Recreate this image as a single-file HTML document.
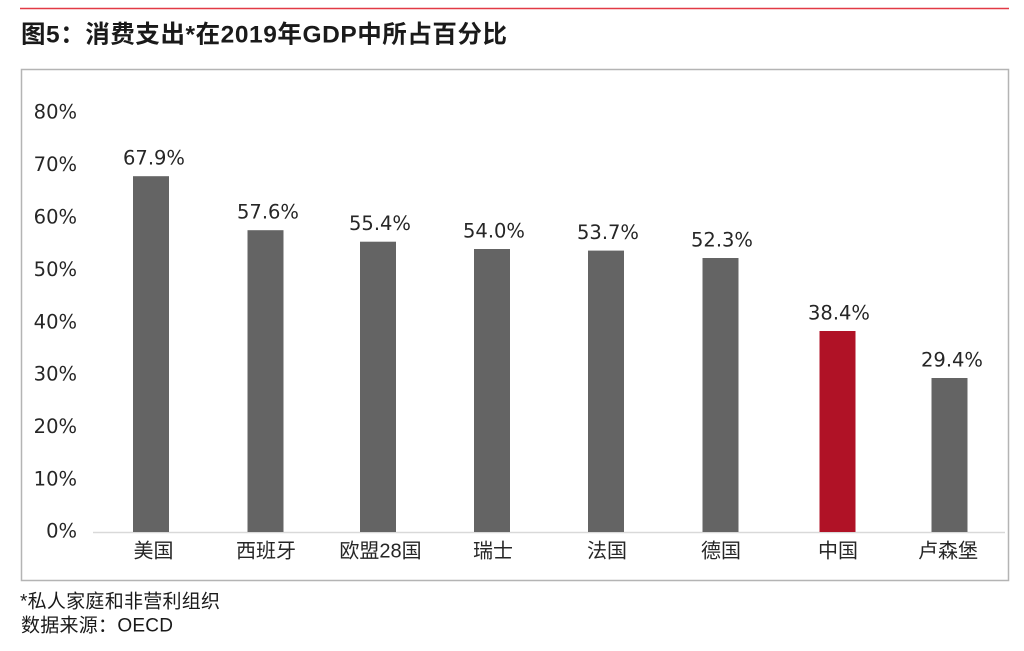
<!DOCTYPE html>
<html><head><meta charset="utf-8"><style>
html,body{margin:0;padding:0;background:#fff;}
svg{display:block;}
</style></head><body>
<svg width="1024" height="651" viewBox="0 0 1024 651" xmlns="http://www.w3.org/2000/svg">
<rect x="0" y="0" width="1024" height="651" fill="#fff"/>
<line x1="20" y1="8.5" x2="1009" y2="8.5" stroke="#e23a46" stroke-width="1.5"/>
<text x="21" y="42.5" font-family="'Liberation Sans','Noto Sans CJK SC',sans-serif" font-weight="bold" font-size="24.5" fill="#1a1a1a" textLength="486" lengthAdjust="spacing">图5：消费支出*在2019年GDP中所占百分比</text>
<rect x="21.5" y="69.5" width="987" height="511" fill="none" stroke="#b4b4b4" stroke-width="1.5"/>
<g font-family="'DejaVu Sans',sans-serif" font-size="19.5" fill="#262626" text-anchor="end">
<text x="77" y="118.5">80%</text>
<text x="77" y="171">70%</text>
<text x="77" y="223.5">60%</text>
<text x="77" y="276">50%</text>
<text x="77" y="328.5">40%</text>
<text x="77" y="380.5">30%</text>
<text x="77" y="433">20%</text>
<text x="77" y="485.5">10%</text>
<text x="77" y="537.5">0%</text>
</g>
<line x1="93" y1="532.5" x2="1005" y2="532.5" stroke="#d9d9d9" stroke-width="1.5"/>
<g fill="#646464">
<rect x="133" y="176.2" width="36" height="355.8"/>
<rect x="247.5" y="230.2" width="36" height="301.8"/>
<rect x="360" y="241.7" width="36" height="290.3"/>
<rect x="474" y="249" width="36" height="283"/>
<rect x="588" y="250.6" width="36" height="281.4"/>
<rect x="702.5" y="258" width="36" height="274"/>
<rect x="931.5" y="378" width="36" height="154"/>
</g>
<rect x="819.5" y="331" width="36" height="201" fill="#b01226"/>
<g font-family="'DejaVu Sans',sans-serif" font-size="19.5" fill="#262626" text-anchor="middle">
<text x="154" y="164.5">67.9%</text>
<text x="268" y="218.5">57.6%</text>
<text x="380" y="230">55.4%</text>
<text x="494" y="237.5">54.0%</text>
<text x="608" y="239">53.7%</text>
<text x="722" y="246.5">52.3%</text>
<text x="839" y="319.5">38.4%</text>
<text x="952" y="366.5">29.4%</text>
</g>
<g font-family="'Liberation Sans','Noto Sans CJK SC',sans-serif" font-size="20" fill="#262626" text-anchor="middle">
<text x="153.5" y="557.5">美国</text>
<text x="266" y="557.5">西班牙</text>
<text x="380.5" y="557.5">欧盟28国</text>
<text x="493" y="557.5">瑞士</text>
<text x="607" y="557.5">法国</text>
<text x="721" y="557.5">德国</text>
<text x="838" y="557.5">中国</text>
<text x="948" y="557.5">卢森堡</text>
</g>
<g font-family="'Liberation Sans','Noto Sans CJK SC',sans-serif" font-size="19" fill="#1a1a1a">
<text x="20" y="607.5" textLength="200" lengthAdjust="spacing">*私人家庭和非营利组织</text>
<text x="21" y="631.5" textLength="152" lengthAdjust="spacing">数据来源：OECD</text>
</g>
</svg>
</body></html>
